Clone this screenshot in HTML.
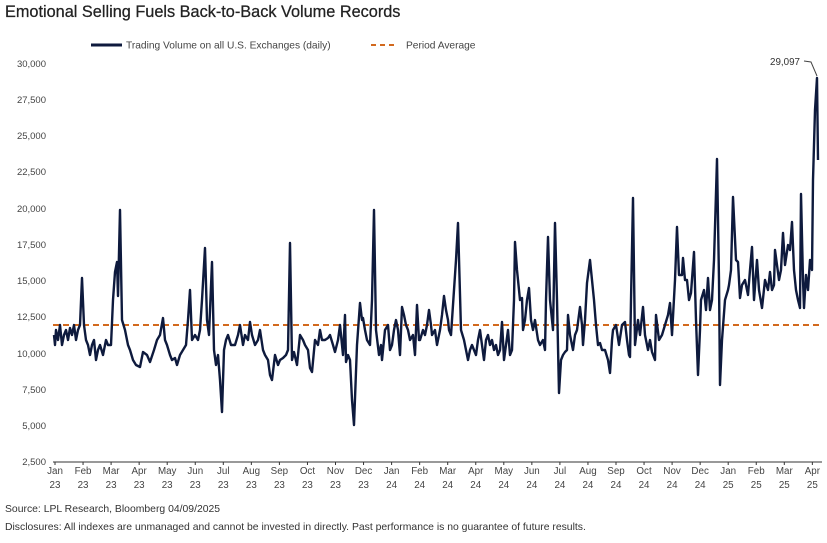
<!DOCTYPE html>
<html><head><meta charset="utf-8"><style>
body{margin:0;background:#fff;width:827px;height:538px;overflow:hidden;font-family:"Liberation Sans",sans-serif}
</style></head><body>
<svg width="827" height="538" viewBox="0 0 827 538" xmlns="http://www.w3.org/2000/svg" font-family="Liberation Sans, sans-serif">
<text x="5" y="17" font-size="16.3" fill="#222" stroke="#222" stroke-width="0.25">Emotional Selling Fuels Back-to-Back Volume Records</text>
<line x1="91" y1="45" x2="122" y2="45" stroke="#0e1a3d" stroke-width="3"/>
<text x="126" y="48.5" font-size="10.2" fill="#444">Trading Volume on all U.S. Exchanges (daily)</text>
<line x1="371" y1="45" x2="397" y2="45" stroke="#d2691e" stroke-width="2" stroke-dasharray="5,4"/>
<text x="406" y="48.5" font-size="10.2" fill="#444">Period Average</text>
<g font-size="9.5" fill="#444" text-anchor="end">
<text x="46" y="67">30,000</text><text x="46" y="103">27,500</text><text x="46" y="139">25,000</text>
<text x="46" y="175">22,500</text><text x="46" y="212">20,000</text><text x="46" y="248">17,500</text>
<text x="46" y="284">15,000</text><text x="46" y="320">12,500</text><text x="46" y="357">10,000</text>
<text x="46" y="393">7,500</text><text x="46" y="429">5,000</text><text x="46" y="465">2,500</text>
</g>
<line x1="53" y1="462" x2="822" y2="462" stroke="#333" stroke-width="1"/>
<g id="ticks" stroke="#333" stroke-width="1"></g>
<g font-size="9.8" fill="#444" text-anchor="middle" id="xl"></g>
<line x1="53" y1="325" x2="822" y2="325" stroke="#d2691e" stroke-width="2" stroke-dasharray="6,4"/>
<polyline fill="none" stroke="#0e1a3d" stroke-width="2.4" stroke-linejoin="round" points="
54,335 55,345 56,330 58,340 60,325 62,345 64,335 66,330 68,340 70,328 72,335 74,325 76,340 78,330 80,325 82,278 84,325 86,340 88,345 90,355 92,345 94,340 96,360 98,350 100,345 103,355 106,340 108,345 111,345 113,300 115,272 117,262 118,296 120,210 122,320 125,330 128,345 130,350 133,360 136,365 140,367 143,352 147,355 150,362 154,350 157,340 160,335 163,318 165,340 167,345 170,355 172,360 175,358 177,365 180,355 183,350 186,345 188,320 190,290 192,340 195,335 198,340 200,330 202,300 205,248 207,320 209,335 212,262 214,350 216,365 218,355 220,380 222,412 224,350 226,340 228,335 231,345 235,345 238,335 240,325 243,345 245,335 248,340 250,322 252,335 255,345 258,340 260,330 263,350 265,355 268,360 270,375 272,380 275,355 278,365 280,360 283,358 286,355 288,350 290,243 292,360 294,352 297,365 300,335 303,340 305,345 308,350 310,368 312,372 315,340 318,345 320,330 322,340 325,340 328,338 330,335 333,345 335,352 338,340 340,325 343,355 345,315 346,362 348,355 350,360 352,400 354,425 357,345 360,303 362,320 363,318 365,330 367,340 370,345 372,300 374,210 376,330 379,355 381,345 382,360 385,330 388,325 390,350 392,345 394,330 396,320 398,330 400,355 402,307 404,315 406,325 408,330 410,340 413,335 415,355 417,305 419,340 420,340 423,330 425,335 427,325 429,310 431,325 432,335 435,330 437,345 440,330 442,315 444,296 446,310 448,320 449,330 451,335 454,290 456,260 458,223 461,330 464,340 466,350 468,360 470,350 472,345 474,350 476,355 478,340 480,330 482,345 484,360 486,340 488,335 490,345 492,340 494,350 496,345 498,355 500,350 502,322 504,360 506,345 508,330 510,355 512,350 514,300 515,242 517,270 520,300 522,298 523,330 525,320 527,300 529,288 531,320 533,330 535,320 538,340 540,345 543,340 545,350 546,300 548,237 550,300 553,330 555,223 557,300 559,393 561,360 563,355 565,352 567,350 568,315 570,335 573,350 575,335 577,330 580,307 582,325 583,345 585,320 587,283 590,260 592,280 594,300 596,325 598,345 600,343 602,350 605,350 608,360 610,373 612,340 613,330 616,325 619,345 622,325 625,322 627,340 629,355 630,357 631,300 633,198 635,345 638,320 640,335 643,307 645,335 648,350 650,340 652,352 655,360 656,315 659,340 662,335 665,325 668,315 670,303 672,335 675,280 677,227 679,275 682,275 683,258 685,280 687,280 689,300 691,293 694,252 696,320 698,375 700,330 701,300 704,290 706,310 708,278 710,310 712,300 714,260 715,227 717,159 719,280 720,385 722,340 725,300 728,290 729,285 731,270 733,197 736,260 738,262 740,298 742,285 745,280 748,295 750,270 752,247 754,300 757,260 759,290 762,308 765,280 768,290 770,272 772,290 774,285 775,250 777,265 779,280 781,270 783,233 785,265 788,245 790,250 792,222 794,270 796,290 798,300 800,308 801,194 803,280 804,308 806,275 808,290 810,260 812,270 813,180 815,110 817,78 818,160"/>
<polyline fill="none" stroke="#444" stroke-width="1" points="804,61 811,62 817,76"/>
<text x="800" y="65" font-size="9.8" fill="#333" text-anchor="end">29,097</text>
<text x="5" y="512" font-size="10.4" fill="#333">Source: LPL Research, Bloomberg 04/09/2025</text>
<text x="5" y="530" font-size="10.4" fill="#333">Disclosures: All indexes are unmanaged and cannot be invested in directly. Past performance is no guarantee of future results.</text>
<script>
var m=["Jan","Feb","Mar","Apr","May","Jun","Jul","Aug","Sep","Oct","Nov","Dec"];
var t=document.getElementById("ticks"),xl=document.getElementById("xl"),ns="http://www.w3.org/2000/svg";
for(var i=0;i<28;i++){var x=55+i*28.05;
var l=document.createElementNS(ns,"line");l.setAttribute("x1",x);l.setAttribute("x2",x);l.setAttribute("y1",462);l.setAttribute("y2",465);t.appendChild(l);
var a=document.createElementNS(ns,"text");a.setAttribute("x",x);a.setAttribute("y",474);a.textContent=m[i%12];xl.appendChild(a);
var b=document.createElementNS(ns,"text");b.setAttribute("x",x);b.setAttribute("y",488);b.textContent=String(23+Math.floor(i/12));xl.appendChild(b);}
</script>
</svg>
</body></html>
